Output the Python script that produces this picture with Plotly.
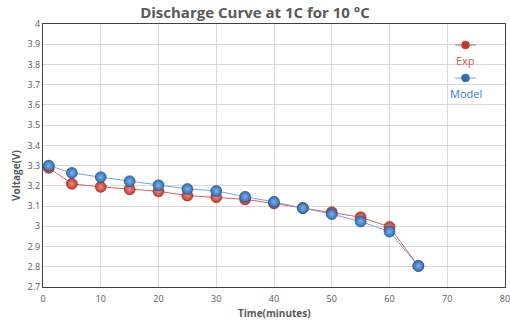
import plotly.graph_objects as go

time_min = [1, 5, 10, 15, 20, 25, 30, 35, 40, 45, 50, 55, 60, 65]
exp_v = [3.289, 3.21, 3.195, 3.183, 3.173, 3.152, 3.144, 3.133, 3.113, 3.09, 3.07, 3.045, 2.997, 2.804]
model_v = [3.30, 3.264, 3.243, 3.223, 3.203, 3.185, 3.175, 3.146, 3.121, 3.09, 3.06, 3.024, 2.974, 2.804]

red_line = "#d9625e"
red_mark = "#c0392b"
blue_line = "#7aa7d8"
blue_mark = "#2f6db5"
gray = "#595959"
font_fam = "Open Sans, Liberation Sans, sans-serif"

fig = go.Figure()
fig.add_trace(go.Scatter(
    x=time_min, y=exp_v, mode="lines+markers", name="Exp",
    line=dict(color=red_line, width=1),
    marker=dict(size=11, color=red_mark, line=dict(color="#8e2a23", width=0.6),
                gradient=dict(type="radial", color="#f08a85")),
))
fig.add_trace(go.Scatter(
    x=time_min, y=model_v, mode="lines+markers", name="Model",
    line=dict(color=blue_line, width=1),
    marker=dict(size=11, color=blue_mark, line=dict(color="#1f4e85", width=0.6),
                gradient=dict(type="radial", color="#7fb2ea")),
))

W, H = 510, 324
ml, mr, mt, mb = 43, 5, 24, 37
pw, ph = W - ml - mr, H - mt - mb

def px(x):
    return (x - ml) / pw

def py(y):
    return 1 - (y - mt) / ph

shapes = []
annotations = []
# manual legend (symbol on top, label below)
for yl, lc, mc, label, tc in [(45, red_line, red_mark, "Exp", "#d9534f"),
                              (78, blue_line, blue_mark, "Model", "#2e7bcf")]:
    shapes.append(dict(type="line", xref="paper", yref="paper",
                       x0=px(455), x1=px(476), y0=py(yl), y1=py(yl),
                       line=dict(color=lc, width=1)))
    shapes.append(dict(type="circle", xref="paper", yref="paper",
                       x0=px(461.5), x1=px(469.5), y0=py(yl - 4), y1=py(yl + 4),
                       fillcolor=mc, line=dict(color=mc, width=0.6)))
    annotations.append(dict(text=label, xref="paper", yref="paper",
                            x=px(465.5), y=py(yl + 15), showarrow=False,
                            font=dict(size=11, color=tc, family=font_fam),
                            xanchor="center", yanchor="middle"))

# axis titles
annotations.append(dict(text="<b>Time(minutes)</b>", xref="paper", yref="paper",
                        x=px(274), y=py(313), showarrow=False,
                        font=dict(size=10, color=gray, family=font_fam),
                        xanchor="center", yanchor="middle"))
annotations.append(dict(text="<b>Voltage(V)</b>", xref="paper", yref="paper",
                        x=px(16), y=py(176), showarrow=False, textangle=-90,
                        font=dict(size=10, color=gray, family=font_fam),
                        xanchor="center", yanchor="middle"))

fig.update_layout(
    width=W, height=H,
    margin=dict(l=ml, r=mr, t=mt, b=mb, autoexpand=False),
    paper_bgcolor="white", plot_bgcolor="white",
    showlegend=False,
    title=dict(text="<b>Discharge Curve at 1C for 10 °C</b>", x=px(274), xanchor="center",
               y=1 - 13 / H, yanchor="middle",
               font=dict(size=15, color=gray, family=font_fam)),
    font=dict(family=font_fam, color=gray, size=9),
    xaxis=dict(range=[0, 80], dtick=10, tick0=0, showgrid=True, gridcolor="#d9d9d9",
               gridwidth=1, zeroline=False, showline=True, linecolor="#404040",
               linewidth=1, mirror=True, ticks="", automargin=False,
               ticklabeloverflow="allow", ticklabelstandoff=3,
               tickfont=dict(size=9, color=gray)),
    yaxis=dict(range=[2.7, 4.0], dtick=0.1, tick0=2.7, showgrid=True, gridcolor="#d9d9d9",
               gridwidth=1, zeroline=False, showline=True, linecolor="#404040",
               linewidth=1, mirror=True, ticks="", automargin=False,
               ticklabeloverflow="allow",
               tickfont=dict(size=9, color=gray)),
    shapes=shapes,
    annotations=annotations,
)

fig.write_html("out.html", config={"displayModeBar": False},
               post_script="document.body.style.margin='0';")
